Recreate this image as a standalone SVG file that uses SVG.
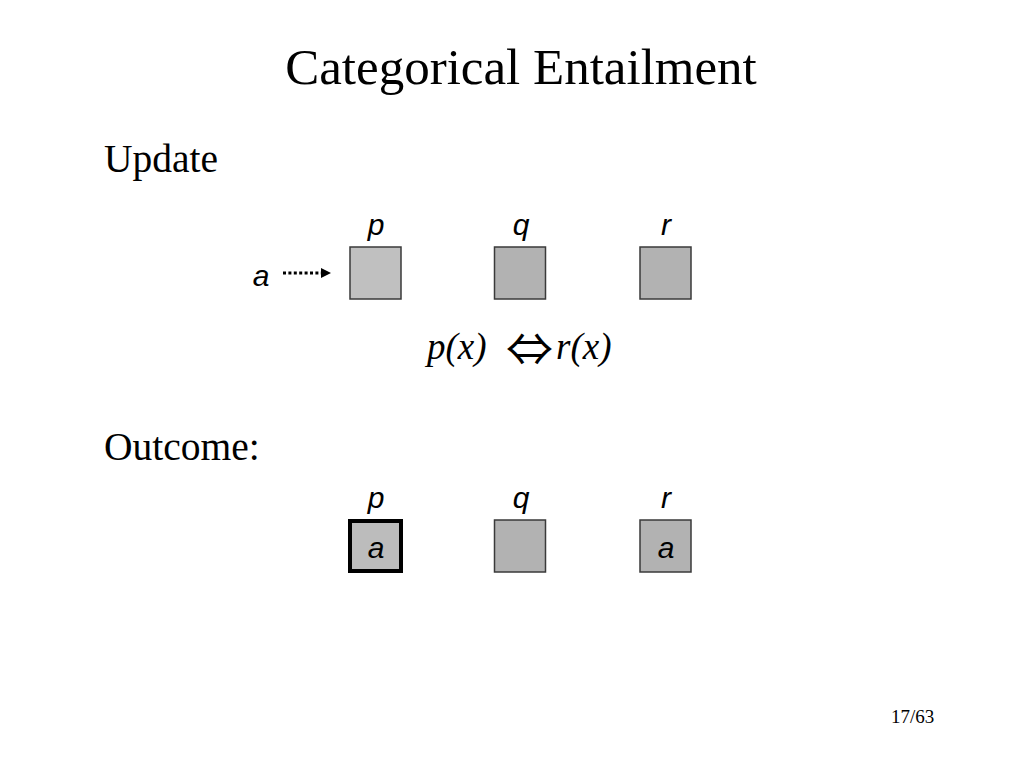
<svg xmlns="http://www.w3.org/2000/svg" width="1024" height="768" viewBox="0 0 1024 768">
<defs>
<style>
.serif{font-family:"Liberation Serif","Times New Roman",serif;fill:#000}
.lab{font-family:"Liberation Sans",Arial,sans-serif;font-style:italic;font-size:30px;fill:#000;text-anchor:middle}
.box{stroke:#3a3a3a;stroke-width:1.5}
.light{fill:#c0c0c0}
.dark{fill:#b2b2b2}
</style>
<marker id="ah" viewBox="0 0 10 10" refX="0" refY="5" markerWidth="11" markerHeight="10" orient="auto" markerUnits="userSpaceOnUse">
<path d="M0,0 L10,5 L0,10 z" fill="#000"/>
</marker>
</defs>
<rect width="1024" height="768" fill="#fff"/>
<text class="serif" x="521" y="84" font-size="51" text-anchor="middle">Categorical Entailment</text>
<text class="serif" x="104" y="172" font-size="39.5">Update</text>
<text class="serif" x="104" y="460" font-size="39.5">Outcome:</text>
<text class="serif" x="891" y="723" font-size="19">17/63</text>

<g id="update-p"><text class="lab" x="376" y="235">p</text><rect class="box light" x="350" y="247" width="51" height="52"/></g>
<g id="update-q"><text class="lab" x="521" y="235">q</text><rect class="box dark" x="494.5" y="247" width="51" height="52"/></g>
<g id="update-r"><text class="lab" x="666" y="235">r</text><rect class="box dark" x="640" y="247" width="51" height="52"/></g>
<g id="update-a"><text class="lab" x="261" y="286">a</text></g>

<g id="connectors">
<line x1="283" y1="273" x2="321" y2="273" stroke="#000" stroke-width="3" stroke-dasharray="3,2.4" marker-end="url(#ah)"/>
</g>

<g id="formula" class="serif" font-style="italic" font-size="37">
<text x="427" y="359">p(x)</text>
<text x="506" y="366" font-style="normal" font-family="Noto Sans CJK SC, sans-serif" font-size="45" textLength="47" lengthAdjust="spacingAndGlyphs">⇔</text>
<text x="556" y="359">r(x)</text>
</g>

<g id="outcome-p"><text class="lab" x="376" y="508">p</text><rect x="350" y="521" width="51" height="50" fill="#bcbcbc" stroke="#000" stroke-width="4"/><text class="lab" x="376" y="558">a</text></g>
<g id="outcome-q"><text class="lab" x="521" y="508">q</text><rect class="box dark" x="494.5" y="520" width="51" height="52"/></g>
<g id="outcome-r"><text class="lab" x="666" y="508">r</text><rect class="box dark" x="640" y="520" width="51" height="52"/><text class="lab" x="666" y="558">a</text></g>
</svg>
